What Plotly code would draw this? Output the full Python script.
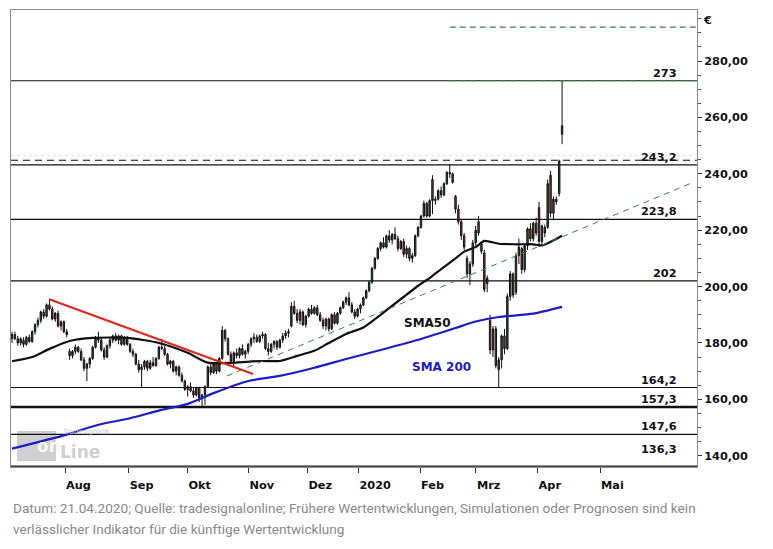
import plotly.graph_objects as go

# ---------------- data ----------------
opens = [181.5,183,181.5,180,181,179.5,182,180.5,184,186.5,
         188,191,189.5,193.5,192,188.5,190.5,186,187.5,184,
         177,175.5,177,178.5,177,174,171,172.5,174.5,178.5,
         182,181,177.5,175,179,181,182.5,181,182.5,179.5,
         182,179.5,177,176,172.5,170.5,171.5,173.5,171,173,
         172,174.5,178.5,178,176,172.5,173.5,170,171.5,168.5,
         166.5,163.5,164.5,163,161.5,164,160.5,161.5,164.5,171.5,
         169.5,172.5,170,174.5,184.5,181.5,176,173.5,176.5,175.5,
         178,176,177,179.5,181.5,182,180.5,182.5,183,178,
         177,179.5,180.5,178.5,181,182.5,183.5,186,193,190.5,
         188,191,186.5,189.5,192,190.5,192.5,190,188,186,
         188.5,185,190,187,190.5,192.5,194.5,196,193.5,191,
         189.5,192,193.5,196,198.5,201.5,206.5,210,213.5,215.5,
         214,218,216.5,218.5,217,213.5,216,211.5,213.5,210,
         211,218,221,225,229.5,225,238,230.5,231,234,
         232.5,236.5,240.5,240,232,227.5,223,218,210,204.5,
         208,215.5,223,215,212,201,188,177.5,185,170.5,
         174,182.5,178,196.5,204.5,198,211,213.5,206,214.5,
         220.5,217,222.5,228,216,221,221,239.5,226,231,
         233,254]
highs = [184,184,182.5,182,182,182.5,183,184.5,187,189,
         191.5,192,194,195.6,193,191,191.5,188,188,185,
         178,177.5,179.5,179,178,175,173,175,179,182.5,
         184,182,178.5,179.5,182,183,183.5,183,183,182.5,
         182.5,180,178,176.5,174,172.5,174,174,174,175,
         175,179,181.5,179,176.5,174,174,172,172,169.5,
         167,165,166,164,164.5,164.5,162,165,172,173,
         173,173,175,186,185,182,177,177,178,178.5,
         179.5,177.5,180,182,183.5,183,183,184,183.5,180,
         180,181,181,181.5,183.5,184.5,185,194.5,195,192,
         192,191.5,190,192.5,193.5,193,193.5,191,189,189,
         189,190.5,191,191,193,195,196.5,198,194.5,192,
         192.5,194,196.5,199,202,207,210.5,214,216,217.5,
         218.5,220,219,221,218,216.5,217,214.5,214,212,
         218.5,221.5,225.5,230.5,230,231,239.5,232,234.5,235.5,
         237,241,243.5,240.5,232.5,229,224,219,211,209,
         216.5,221.5,225,216,213,204,190,186,186,175,
         183,185,197.5,205.5,205,212,217,214,215,221,
         222.5,223,224.5,230,222,222,238,241,232,232,
         245,273]
lows = [180,181,179,179,178.5,179,180,180,183,185.5,
        187,188.5,189,191.5,188,187.5,185.5,184.5,183.5,182,
        174,174.5,176,176.5,173.5,170,166.5,171,174,178,
        180,177,174,174.5,178,180,180.5,179.5,179,179,
        179,176.5,175,172,169.5,164,170.5,170,170.5,171.5,
        171.5,174,177.5,175.5,172,171,169.5,168.5,168,166,
        163,161,162.5,160.5,161,159,157.5,158,164,168.5,
        169,169,169.5,174,180.5,175.5,172.5,171.5,174.5,174.5,
        175.5,174.5,176,178.5,180,180,180,181.5,177.5,175.5,
        176.5,178,177.5,178,180,181.5,182,185.5,190,187,
        186.5,186,185.5,189,190,190,189.5,187.5,185,184.5,
        184,184.5,186.5,186.5,190,192,193.5,193,190.5,188.5,
        189,190.5,193,195.5,198,201,206,209.5,212.5,213.5,
        213.5,215.5,215,216.5,212.5,213,210.5,210,209,208.5,
        210.5,217.5,220.5,224.5,224.5,224.5,225.7,229,230.5,231.5,
        232,236,238.5,236.5,226,222,216.5,213,203,200.5,
        207,214.5,218,211.5,198,198,176,175,171,164,
        171,176,177.5,195,196,197,208,204.5,205,213,
        216,216,218,214,214.5,217.5,220.5,224.5,223.5,229,
        232,250.5]
closes = [183,181.5,180,181.5,179.5,182,180.5,184,186.5,188,
          191,189.5,193.5,192,188.5,190.5,186,187.5,184,183,
          175.5,177,178.5,177,174,171,172.5,174.5,178.5,182,
          181,177.5,175,179,181,182.5,181,182.5,179.5,182,
          179.5,177,176,172.5,170.5,171.5,173.5,171,173,172,
          174.5,178.5,178,176,172.5,173.5,170,171.5,168.5,166.5,
          163.5,164.5,163,161.5,164,160.5,161.5,164.5,171.5,169.5,
          172.5,170,174.5,184.5,181.5,176,173.5,176.5,175.5,178,
          176,177,179.5,181.5,182,180.5,182.5,183,178,177,
          179.5,180.5,178.5,181,182.5,183.5,184,193,190.5,188,
          191,186.5,189.5,192,190.5,192.5,190,188,186,188.5,
          185,190,187,190.5,192.5,194.5,196,193.5,191,189.5,
          192,193.5,196,198.5,201.5,206.5,210,213.5,215.5,214,
          218,216.5,218.5,217,213.5,216,211.5,213.5,210,211,
          218,221,225,229.5,225,230.5,230.5,231,234,232.5,
          236.5,240.5,240,237,227.5,223,218,214,204.5,208,
          215.5,220,219,212.5,199,203,177.5,185,172,174,
          182.5,178,196.5,204.5,197,211,214,206,214.5,220.5,
          217,222.5,219,216,221.5,219,236.5,226,231,230,
          244.5,257]
days = list(range(len(closes)))

month_ticks = [18.4, 40.5, 60.9, 82.1, 102.6, 120.3, 141.7, 161.1, 182.5, 204.2]
month_labels = ["Aug", "Sep", "Okt", "Nov", "Dez", "2020", "Feb", "Mrz", "Apr", "Mai"]

sma50_x = [0, 7, 13, 20, 28, 40, 51, 61, 68, 77, 86, 93, 99, 105, 110, 116,
           122, 128, 131, 142, 145, 149, 154, 157, 161, 164, 169, 175, 181, 184, 189, 191]
sma50_y = [173.5, 175, 177.9, 180.7, 181.8, 181.8, 180, 176.5, 173, 173, 173.6, 173.6,
           175.4, 177.2, 180, 183.2, 185.5, 190, 192.4, 201, 203, 206.2, 210, 212.4,
           214, 216.2, 215.2, 215, 215, 214.6, 216.9, 218]
sma200_x = [0, 19, 30, 41, 51, 61, 70, 82, 93, 105, 116, 128, 142, 154, 161, 169, 181, 191]
sma200_y = [142.5, 147.5, 151, 153.3, 156, 158.4, 162.2, 166.5, 168.3, 171.2, 174.3,
            177.5, 181.4, 185.3, 187.6, 189.2, 190.4, 192.8]

levels = [273, 243.2, 223.8, 202, 164.2, 157.3, 147.6, 136.3]
level_labels = ["273", "243,2", "223,8", "202", "164,2", "157,3", "147,6", "136,3"]
resistance_dashed = 244.8
resistance_dotted = 246.6
target_levels = [273, 292]
target_start = 152
down_trend_x = [12.95, 83.7]
down_trend_y = [195.5, 169.0]
up_trend_x = [74.65, 235.4]
up_trend_y = [168.3, 236.5]

# ---------------- layout helpers ----------------
W, H = 773, 549
L, R, T, B = 11, 697, 10, 467
XR = [-0.35, 237.85]
YR = [136.0, 298.1]


def px_x(px):
    return (px - L) / (R - L)


def px_y(py):
    return (B - py) / (B - T)


BOLD = dict(family="DejaVu Sans", size=11.3, color="#111111", weight="bold")

fig = go.Figure()

fig.add_trace(go.Candlestick(
    x=days, open=opens, high=highs, low=lows, close=closes,
    increasing=dict(line=dict(color="#111111", width=1), fillcolor="#1d6a33"),
    decreasing=dict(line=dict(color="#111111", width=1), fillcolor="#c3262c"),
    whiskerwidth=0, hoverinfo="skip"))

fig.add_trace(go.Scatter(x=sma200_x, y=sma200_y, mode="lines",
                         line=dict(color="#1c1cc8", width=2.2, shape="spline", smoothing=0.6)))
fig.add_trace(go.Scatter(x=sma50_x, y=sma50_y, mode="lines",
                         line=dict(color="#111111", width=2.2, shape="spline", smoothing=0.6)))
fig.add_trace(go.Scatter(x=down_trend_x, y=down_trend_y, mode="lines",
                         line=dict(color="#e3261c", width=2.2)))
fig.add_trace(go.Scatter(x=up_trend_x, y=up_trend_y, mode="lines",
                         line=dict(color="#2f8a3a", width=1, dash="6px,5px")))

shapes = []
# watermark logo box
shapes.append(dict(type="rect", xref="paper", yref="paper", x0=px_x(17), x1=px_x(56),
                   y0=px_y(461), y1=px_y(431), fillcolor="#d0d0d0", line=dict(width=0), layer="below"))
for lv in levels:
    shapes.append(dict(type="line", xref="paper", x0=0, x1=1, yref="y", y0=lv, y1=lv,
                       line=dict(color="#111111", width=2.6 if lv == 157.3 else 1.2), layer="below"))
shapes.append(dict(type="line", xref="paper", x0=0, x1=1, yref="y",
                   y0=resistance_dashed, y1=resistance_dashed,
                   line=dict(color="#111111", width=1.2, dash="7px,5px"), layer="below"))
shapes.append(dict(type="line", xref="paper", x0=0, x1=1, yref="y",
                   y0=resistance_dotted, y1=resistance_dotted,
                   line=dict(color="#dddddd", width=1, dash="dot"), layer="below"))
for lv in target_levels:
    shapes.append(dict(type="line", xref="x", x0=target_start, x1=XR[1], yref="y", y0=lv, y1=lv,
                       line=dict(color="#2f8a3a", width=1.2, dash="6px,4px")))

annotations = []
for lv, lab in zip(levels, level_labels):
    annotations.append(dict(xref="paper", x=px_x(679), xanchor="right", yref="y", y=lv,
                            yanchor="bottom", yshift=8 if lv == 136.3 else -1,
                            text=lab, showarrow=False, font=BOLD))
annotations.append(dict(xref="paper", x=px_x(701), xanchor="left", yref="paper", y=px_y(21),
                        yanchor="middle", text="€", showarrow=False, font=BOLD))
annotations.append(dict(xref="x", x=144.4, yref="y", y=187.2, text="SMA50", showarrow=False,
                        font=dict(family="DejaVu Sans", size=12, color="#111111", weight="bold")))
annotations.append(dict(xref="x", x=149.0, yref="y", y=171.6, text="SMA 200", showarrow=False,
                        font=dict(family="DejaVu Sans", size=12, color="#1c1cc8", weight="bold")))
# watermark text
annotations.append(dict(xref="paper", x=px_x(36), yref="paper", y=px_y(446), yanchor="middle",
                        text="on", showarrow=False, borderpad=0,
                        font=dict(family="DejaVu Sans", size=17, color="#f6f6f6", weight="bold")))
annotations.append(dict(xref="paper", x=px_x(59), xanchor="left", yref="paper", y=px_y(463),
                        yanchor="bottom", text="Line", showarrow=False, borderpad=0,
                        font=dict(family="DejaVu Sans", size=17, color="#d0d0d0", weight="bold")))
annotations.append(dict(xref="paper", x=px_x(62), xanchor="left", yref="paper", y=px_y(437),
                        yanchor="bottom", text="<i>Tradesignal®</i>", showarrow=False, borderpad=0,
                        font=dict(family="DejaVu Sans", size=7, color="#c8c8c8")))
# footer
FOOT = dict(family="Roboto", size=13.6, color="#8a8a8a")
annotations.append(dict(xref="paper", x=px_x(11), xanchor="left", yref="paper", y=px_y(508),
                        yanchor="middle", showarrow=False, font=FOOT,
                        text="Datum: 21.04.2020; Quelle: tradesignalonline; Frühere Wertentwicklungen, "
                             "Simulationen oder Prognosen sind kein"))
annotations.append(dict(xref="paper", x=px_x(11), xanchor="left", yref="paper", y=px_y(529),
                        yanchor="middle", showarrow=False, font=FOOT,
                        text="verlässlicher Indikator für die künftige Wertentwicklung"))

fig.update_layout(
    width=W, height=H, margin=dict(l=L, r=W - R, t=T, b=H - B),
    paper_bgcolor="white", plot_bgcolor="white", showlegend=False,
    separators=",.", shapes=shapes, annotations=annotations, hovermode=False,
    xaxis=dict(range=XR, rangeslider=dict(visible=False), showgrid=False, zeroline=False,
               tickmode="array", tickvals=month_ticks, ticktext=month_labels,
               ticks="outside", ticklen=5, tickcolor="#333333", tickfont=BOLD,
               ticklabelposition="outside right", ticklabelstandoff=7,
               showline=True, linecolor="#8c8c8c", linewidth=1, mirror=True),
    yaxis=dict(range=YR, side="right", showgrid=False, zeroline=False,
               tick0=140, dtick=20, tickformat=".2f", ticks="outside", ticklen=4,
               tickcolor="#333333", tickfont=BOLD,
               minor=dict(dtick=5, tick0=140, ticks="outside", ticklen=3, tickcolor="#555555",
                          showgrid=False),
               showline=True, linecolor="#8c8c8c", linewidth=1, mirror=True),
)

fig.write_html("out.html")
